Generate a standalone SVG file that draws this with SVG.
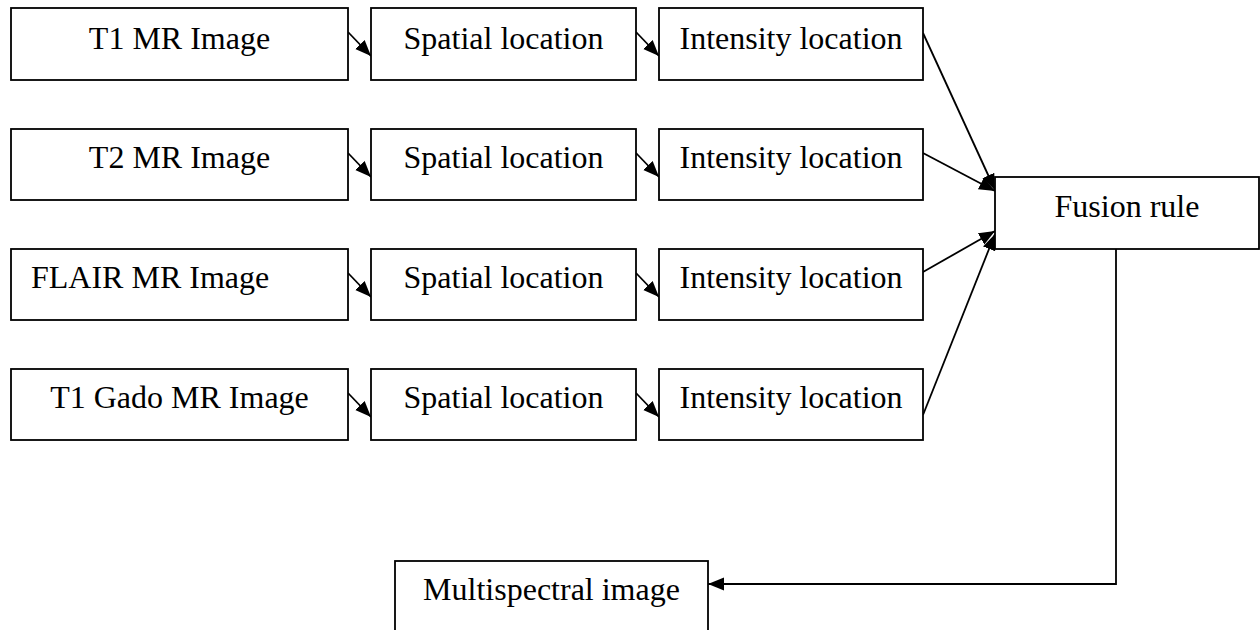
<svg xmlns="http://www.w3.org/2000/svg" width="1260" height="630" viewBox="0 0 1260 630">
<style>
.box{fill:#fff;stroke:#000;stroke-width:1.8}
.t{font-family:"Liberation Serif","Times New Roman",serif;font-size:32px;fill:#000;text-anchor:middle}
.c{fill:none;stroke:#000;stroke-width:1.8}
</style>
<defs>
<marker id="ah" markerUnits="userSpaceOnUse" markerWidth="18" markerHeight="14" refX="16" refY="6.5" orient="auto">
<path d="M0,0 L16,6.5 L0,13 z" fill="#000"/>
</marker>
</defs>
<rect width="1260" height="630" fill="#fff"/>
<g id="connectors">
<line class="c" x1="348" y1="32" x2="371" y2="56" marker-end="url(#ah)"/>
<line class="c" x1="636" y1="32" x2="659" y2="56" marker-end="url(#ah)"/>
<line class="c" x1="348" y1="153" x2="371" y2="177" marker-end="url(#ah)"/>
<line class="c" x1="636" y1="153" x2="659" y2="177" marker-end="url(#ah)"/>
<line class="c" x1="348" y1="273" x2="371" y2="297" marker-end="url(#ah)"/>
<line class="c" x1="636" y1="273" x2="659" y2="297" marker-end="url(#ah)"/>
<line class="c" x1="348" y1="393" x2="371" y2="417" marker-end="url(#ah)"/>
<line class="c" x1="636" y1="393" x2="659" y2="417" marker-end="url(#ah)"/>
<line class="c" x1="923" y1="33" x2="995" y2="190" marker-end="url(#ah)"/>
<line class="c" x1="923" y1="153" x2="995" y2="191" marker-end="url(#ah)"/>
<line class="c" x1="923" y1="272" x2="995" y2="231" marker-end="url(#ah)"/>
<line class="c" x1="923" y1="415" x2="995" y2="234" marker-end="url(#ah)"/>
<polyline class="c" points="1116,249 1116,584 708,584" marker-end="url(#ah)"/>
</g>
<g id="n-t1"><rect class="box" x="11" y="8" width="337" height="72"/><text class="t" x="179.5" y="49">T1 MR Image</text></g>
<g id="n-s1"><rect class="box" x="371" y="8" width="265" height="72"/><text class="t" x="503.5" y="49">Spatial location</text></g>
<g id="n-i1"><rect class="box" x="659" y="8" width="264" height="72"/><text class="t" x="791" y="49">Intensity location</text></g>
<g id="n-t2"><rect class="box" x="11" y="129" width="337" height="71"/><text class="t" x="179.5" y="168">T2 MR Image</text></g>
<g id="n-s2"><rect class="box" x="371" y="129" width="265" height="71"/><text class="t" x="503.5" y="168">Spatial location</text></g>
<g id="n-i2"><rect class="box" x="659" y="129" width="264" height="71"/><text class="t" x="791" y="168">Intensity location</text></g>
<g id="n-flair"><rect class="box" x="11" y="249" width="337" height="71"/><text class="t" x="31" y="288" style="text-anchor:start">FLAIR MR Image</text></g>
<g id="n-s3"><rect class="box" x="371" y="249" width="265" height="71"/><text class="t" x="503.5" y="288">Spatial location</text></g>
<g id="n-i3"><rect class="box" x="659" y="249" width="264" height="71"/><text class="t" x="791" y="288">Intensity location</text></g>
<g id="n-t1g"><rect class="box" x="11" y="369" width="337" height="71"/><text class="t" x="179.5" y="408">T1 Gado MR Image</text></g>
<g id="n-s4"><rect class="box" x="371" y="369" width="265" height="71"/><text class="t" x="503.5" y="408">Spatial location</text></g>
<g id="n-i4"><rect class="box" x="659" y="369" width="264" height="71"/><text class="t" x="791" y="408">Intensity location</text></g>
<g id="n-fusion"><rect class="box" x="995" y="177" width="264" height="72"/><text class="t" x="1127" y="217">Fusion rule</text></g>
<g id="n-multi"><rect class="box" x="395" y="561" width="313" height="80"/><text class="t" x="551.5" y="600">Multispectral image</text></g>
</svg>
